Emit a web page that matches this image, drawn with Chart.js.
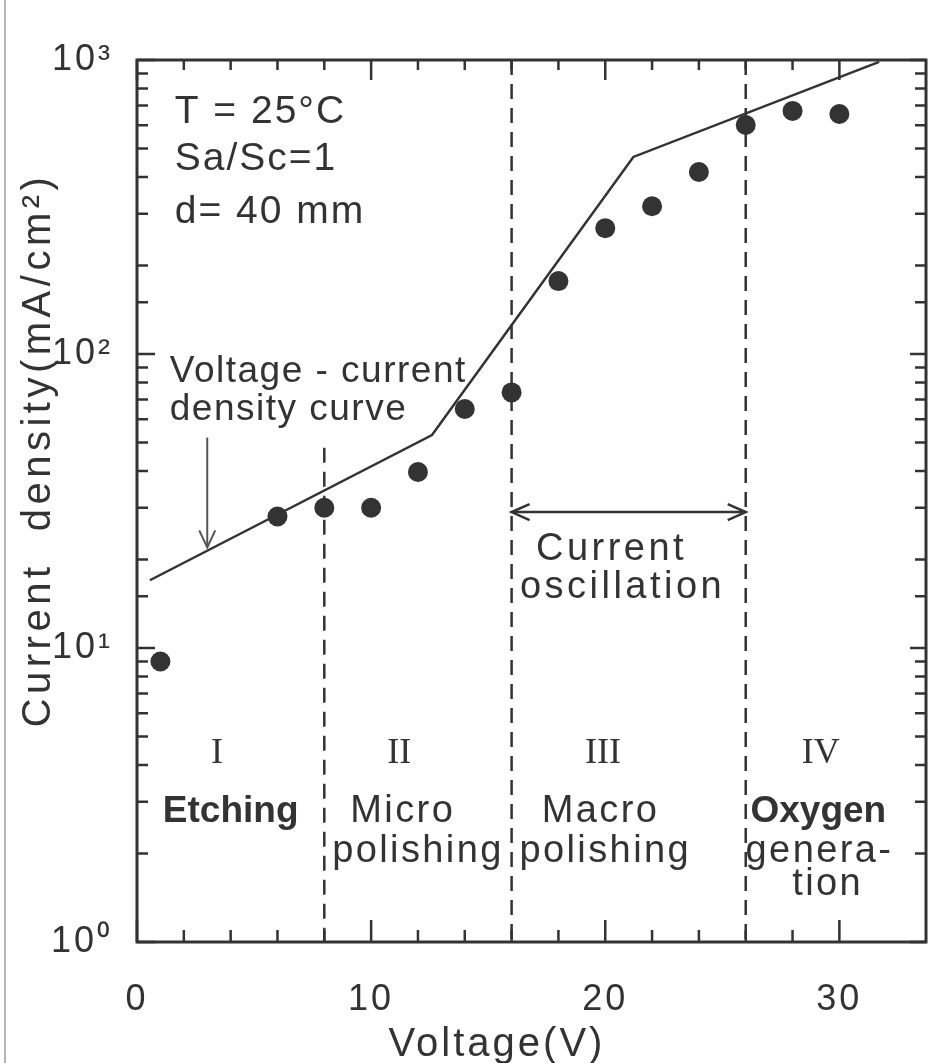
<!DOCTYPE html>
<html>
<head>
<meta charset="utf-8">
<script src="https://cdn.jsdelivr.net/npm/chart.js@4.4.1/dist/chart.umd.min.js"></script>
<style>
  html, body { margin: 0; padding: 0; background: #fff; }
  canvas { display: block; }
</style>
</head>
<body>
<canvas id="ivChart" width="936" height="1063"></canvas>
<script>
// measured current density (mA/cm2) at each applied voltage (V)
const voltages = [1, 6, 8, 10, 12, 14, 16, 18, 20, 22, 24, 26, 28, 30];
const currentDensity = [9.0, 28, 30, 30, 39.7, 65, 74, 177, 268, 318, 416, 601, 671, 655];

// piecewise voltage-current density curve
const curveVoltage = [0.55, 12.6, 21.2, 31.7];
const curveDensity = [17.0, 53, 468, 985];

// dashed boundaries between the four regions
const boundaryVoltage = [8, 16, 26];
const boundaryTop = [48, 1000, 1000];

// arrow pointing at the curve, and the current oscillation span
const pointerVoltage = [3, 3];
const pointerDensity = [52, 22];
const oscVoltage = [16, 26];
const oscDensity = [29, 29];

const xTickStep = 2;
const xLabelStep = 10;
const superscripts = ['⁰', '¹', '²', '³'];

// [text, voltage, density, style, align]
const textLabels = [
  ['T = 25°C', 1.61, 611, 'note', 'left'],
  ['Sa/Sc=1', 1.61, 423, 'note', 'left'],
  ['d= 40 mm', 1.61, 279, 'note', 'left'],
  ['Voltage - current', 1.4, 80.4, 'caption', 'left'],
  ['density curve', 1.4, 59.7, 'caption', 'left'],
  ['I', 3.42, 4.06, 'numeral', 'center'],
  ['II', 11.2, 4.06, 'numeral', 'center'],
  ['III', 19.9, 4.06, 'numeral', 'center'],
  ['IV', 29.2, 4.06, 'numeral', 'center'],
  ['Etching', 4.0, 2.56, 'bold', 'center'],
  ['Micro', 11.35, 2.56, 'region', 'center'],
  ['polishing', 12.0, 1.87, 'region', 'center'],
  ['Macro', 19.8, 2.56, 'region', 'center'],
  ['polishing', 20.0, 1.87, 'region', 'center'],
  ['Oxygen', 29.1, 2.56, 'bold', 'center'],
  ['genera-', 29.15, 1.87, 'region', 'center'],
  ['tion', 29.5, 1.445, 'region', 'center'],
  ['Current', 20.27, 19.9, 'osc', 'center'],
  ['oscillation', 20.74, 14.8, 'osc', 'center']
];

const ink = '#333';
const sans = '"Liberation Sans", Arial, sans-serif';
const textStyles = {
  note: { font: '39px ' + sans, spacing: '2px' },
  caption: { font: '37px ' + sans, spacing: '1.5px' },
  numeral: { font: '36px "Liberation Serif", serif', spacing: '0px' },
  region: { font: '38px ' + sans, spacing: '2.4px' },
  bold: { font: 'bold 37px ' + sans, spacing: '0px' },
  osc: { font: '38px ' + sans, spacing: '3.5px' }
};

const toPoints = (xs, ys) => xs.map((x, i) => ({ x: x, y: ys[i] }));
const decadeOf = v => {
  const p = Math.round(Math.log10(v));
  return Math.abs(v - Math.pow(10, p)) < 1e-6 ? p : null;
};

function openHead(ctx, tx, ty, dx, dy, len, half) {
  const bx = tx - dx * len, by = ty - dy * len;
  ctx.beginPath();
  ctx.moveTo(bx - dy * half, by + dx * half);
  ctx.lineTo(tx, ty);
  ctx.lineTo(bx + dy * half, by - dx * half);
  ctx.stroke();
}

const figurePlugin = {
  id: 'figure',
  beforeDraw(chart) {
    const ctx = chart.ctx;
    ctx.save();
    ctx.strokeStyle = '#b4b4b4';
    ctx.lineWidth = 2;
    ctx.beginPath();
    ctx.moveTo(5, 0);
    ctx.lineTo(5, chart.height);
    ctx.stroke();
    ctx.restore();
    ctx.letterSpacing = '3px';
  },
  afterDraw(chart) {
    const ctx = chart.ctx;
    const xs = chart.scales.x, ys = chart.scales.y;
    const a = chart.chartArea;
    ctx.save();
    ctx.letterSpacing = '0px';
    ctx.strokeStyle = ink;
    ctx.lineCap = 'butt';

    // frame
    ctx.lineWidth = 3;
    ctx.strokeRect(a.left, a.top, a.right - a.left, a.bottom - a.top);

    // inward tick marks on all four sides
    ctx.lineWidth = 2.5;
    ctx.beginPath();
    xs.ticks.forEach(t => {
      const px = xs.getPixelForValue(t.value);
      const major = t.value % xLabelStep === 0;
      ctx.moveTo(px, a.bottom);
      ctx.lineTo(px, a.bottom - (major ? 22 : 12));
      ctx.moveTo(px, a.top);
      ctx.lineTo(px, a.top + (major ? 20 : 10));
    });
    ys.ticks.forEach(t => {
      const py = ys.getPixelForValue(t.value);
      const major = decadeOf(t.value) !== null;
      ctx.moveTo(a.left, py);
      ctx.lineTo(a.left + (major ? 18 : 11), py);
      ctx.moveTo(a.right, py);
      ctx.lineTo(a.right - (major ? 16 : 11), py);
    });
    ctx.stroke();

    // arrow heads
    ctx.lineWidth = 2;
    ctx.strokeStyle = '#555';
    openHead(ctx, xs.getPixelForValue(pointerVoltage[1]), ys.getPixelForValue(pointerDensity[1]), 0, 1, 17, 8);
    ctx.lineWidth = 2.5;
    ctx.strokeStyle = ink;
    const oy = ys.getPixelForValue(oscDensity[0]);
    openHead(ctx, xs.getPixelForValue(oscVoltage[0]), oy, -1, 0, 18, 8);
    openHead(ctx, xs.getPixelForValue(oscVoltage[1]), oy, 1, 0, 18, 8);

    // annotations
    ctx.fillStyle = ink;
    ctx.textBaseline = 'alphabetic';
    textLabels.forEach(([text, v, d, style, align]) => {
      const s = textStyles[style];
      ctx.font = s.font;
      ctx.letterSpacing = s.spacing;
      ctx.textAlign = align;
      ctx.fillText(text, xs.getPixelForValue(v), ys.getPixelForValue(d));
    });

    // axis titles
    ctx.font = '40px ' + sans;
    ctx.letterSpacing = '3px';
    ctx.textAlign = 'center';
    ctx.fillText('Voltage(V)', 497, a.bottom + 114);
    ctx.save();
    ctx.translate(50, 450);
    ctx.rotate(-Math.PI / 2);
    ctx.letterSpacing = '4.5px';
    ctx.fillText('Current  density(mA/cm²)', 0, 0);
    ctx.restore();
    ctx.restore();
  }
};

Chart.defaults.font.family = sans;
Chart.defaults.color = ink;

const lineSet = (data, extra) => Object.assign({
  data: data, showLine: true, pointRadius: 0, borderColor: ink, borderWidth: 2.5, fill: false
}, extra);

new Chart(document.getElementById('ivChart'), {
  type: 'scatter',
  data: {
    datasets: [
      { data: toPoints(voltages, currentDensity), pointRadius: 10, pointBackgroundColor: ink, pointBorderWidth: 0, showLine: false },
      lineSet(toPoints(curveVoltage, curveDensity)),
      ...boundaryVoltage.map((v, i) => lineSet([{ x: v, y: boundaryTop[i] }, { x: v, y: 1 }], { borderDash: [15, 9] })),
      lineSet(toPoints(pointerVoltage, pointerDensity), { borderColor: '#555', borderWidth: 2 }),
      lineSet(toPoints(oscVoltage, oscDensity))
    ]
  },
  options: {
    responsive: false,
    animation: false,
    layout: { padding: { top: 60, right: 1, left: 0, bottom: 0 } },
    plugins: { legend: { display: false }, tooltip: { enabled: false } },
    scales: {
      x: {
        type: 'linear',
        min: 0,
        max: 33.7,
        grid: { display: false },
        border: { display: false },
        ticks: {
          stepSize: xTickStep,
          autoSkip: false,
          maxRotation: 0,
          padding: 28,
          font: { size: 36 },
          color: ink,
          callback: v => (v % xLabelStep === 0 ? String(v) : '')
        },
        afterBuildTicks: s => { s.ticks = s.ticks.filter(t => t.value % xTickStep === 0); },
        afterFit: s => { s.height = 121; s.paddingLeft = 0; s.paddingRight = 0; }
      },
      y: {
        type: 'logarithmic',
        min: 1,
        max: 1000,
        grid: { display: false },
        border: { display: false },
        ticks: {
          autoSkip: false,
          padding: 16,
          font: { size: 36 },
          color: ink,
          callback: v => {
            const p = decadeOf(v);
            return p === null ? '' : '10' + superscripts[p];
          }
        },
        afterFit: s => { s.width = 137; s.paddingTop = 0; s.paddingBottom = 0; }
      }
    }
  },
  plugins: [figurePlugin]
});
</script>
</body>
</html>
